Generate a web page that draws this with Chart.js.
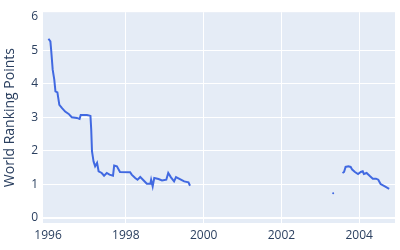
<!DOCTYPE html>
<html>
<head>
<meta charset="utf-8">
<script src="https://cdn.jsdelivr.net/npm/chart.js@4"></script>
<style>
  html, body { margin: 0; padding: 0; background: #fff; }
  #wrap { position: relative; width: 400px; height: 250px; }
</style>
</head>
<body>
<div id="wrap"><canvas id="chart"></canvas></div>
<script>
// Weekly ranking points (null = no data / gap)
const years = [
  1996.01, 1996.06, 1996.08, 1996.12, 1996.16, 1996.19, 1996.24, 1996.29, 1996.36, 1996.44,
  1996.53, 1996.61, 1996.74, 1996.81, 1996.84, 1997.00, 1997.07, 1997.09, 1997.11, 1997.13,
  1997.17, 1997.21, 1997.26, 1997.30, 1997.38, 1997.44, 1997.51, 1997.58, 1997.67, 1997.70,
  1997.77, 1997.85, 1998.11, 1998.15, 1998.24, 1998.30, 1998.37, 1998.44, 1998.54, 1998.63,
  1998.65, 1998.69, 1998.73, 1998.84, 1998.93, 1999.04, 1999.09, 1999.16, 1999.24, 1999.29,
  1999.39, 1999.50, 1999.61, 1999.65,
  2001.00,
  2003.33,
  2003.45,
  2003.57, 2003.61, 2003.65, 2003.72, 2003.78, 2003.82, 2003.89, 2003.97, 2004.04, 2004.09,
  2004.12, 2004.19, 2004.28, 2004.35, 2004.43, 2004.49, 2004.55, 2004.66, 2004.77
];
const points = [
  5.34, 5.26, 5.00, 4.41, 4.12, 3.77, 3.74, 3.37, 3.27, 3.17,
  3.10, 3.00, 2.98, 2.95, 3.07, 3.07, 3.05, 3.04, 2.63, 1.98,
  1.68, 1.54, 1.64, 1.39, 1.34, 1.26, 1.34, 1.29, 1.26, 1.56,
  1.54, 1.37, 1.36, 1.29, 1.19, 1.14, 1.22, 1.14, 1.02, 1.02,
  1.14, 0.94, 1.19, 1.16, 1.12, 1.14, 1.34, 1.21, 1.09, 1.22,
  1.16, 1.09, 1.06, 0.96,
  null,
  0.74,
  null,
  1.34, 1.37, 1.52, 1.54, 1.52, 1.44, 1.37, 1.31, 1.37, 1.39,
  1.31, 1.34, 1.24, 1.17, 1.17, 1.14, 1.01, 0.94, 0.87
];
const xTicks = [1996, 1998, 2000, 2002, 2004];
const yTicks = [0, 1, 2, 3, 4, 5, 6];

const tickColor = '#2a3f5f';
const fontFamily = '"Open Sans", "DejaVu Sans", sans-serif';

const plotBg = {
  id: 'plotBg',
  beforeDraw(chart) {
    const { ctx, chartArea: a } = chart;
    ctx.save();
    ctx.fillStyle = '#E5ECF6';
    ctx.fillRect(a.left, a.top, a.right - a.left, a.bottom - a.top);
    ctx.restore();
  }
};

const isolated = (i) => points[i] !== null &&
  (i === 0 || points[i - 1] === null) && (i === points.length - 1 || points[i + 1] === null);

new Chart(document.getElementById('chart'), {
  type: 'line',
  data: {
    datasets: [{
      data: years.map((x, i) => ({ x, y: points[i] })),
      borderColor: '#4169E1',
      backgroundColor: '#4169E1',
      borderWidth: 2,
      pointRadius: (c) => isolated(c.dataIndex) ? 1 : 0,
      pointBorderWidth: 0,
      spanGaps: false,
      tension: 0,
    }],
  },
  plugins: [plotBg],
  options: {
    responsive: true,
    maintainAspectRatio: false,
    animation: false,
    layout: { padding: { top: 12, right: 5, left: 0, bottom: 0 } },
    scales: {
      x: {
        type: 'linear',
        min: 1995.87,
        max: 2004.92,
        afterBuildTicks: (s) => { s.ticks = xTicks.map(v => ({ value: v })); },
        afterFit: (s) => { s.height = 27; },
        grid: {
          color: (c) => c.tick && c.tick.value === 1996 ? 'rgba(0,0,0,0)' : '#ffffff',
          lineWidth: 1,
          drawTicks: false,
        },
        border: { display: false },
        ticks: {
          color: tickColor,
          font: { family: fontFamily, size: 12 },
          padding: 5,
          maxRotation: 0,
          callback: (v) => String(v),
        },
      },
      y: {
        min: -0.15,
        max: 6.13,
        afterBuildTicks: (s) => { s.ticks = yTicks.map(v => ({ value: v })); },
        afterFit: (s) => { s.width = 43; },
        grid: {
          color: (c) => c.tick && c.tick.value === 6 ? 'rgba(0,0,0,0)' : '#ffffff',
          lineWidth: (c) => c.tick && c.tick.value === 0 ? 2 : 1,
          drawTicks: false,
        },
        border: { display: false },
        ticks: {
          color: tickColor,
          font: { family: fontFamily, size: 12 },
          padding: 5,
        },
        title: {
          display: true,
          text: 'World Ranking Points',
          color: tickColor,
          font: { family: fontFamily, size: 14 },
          padding: { top: 2, bottom: 0 },
        },
      },
    },
    plugins: {
      legend: { display: false },
      tooltip: { enabled: false },
    },
  },
});
</script>
</body>
</html>
